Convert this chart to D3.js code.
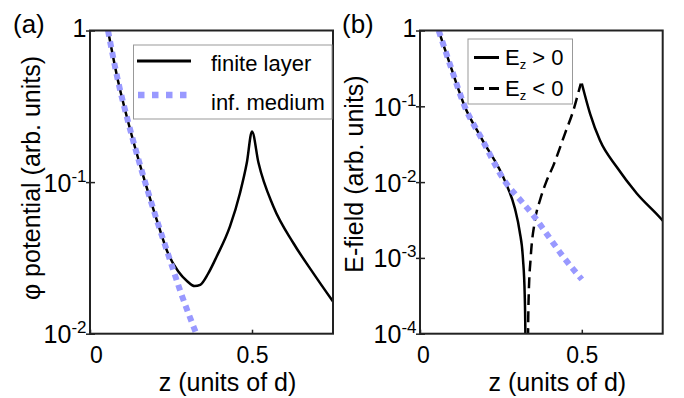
<!DOCTYPE html>
<html>
<head>
<meta charset="utf-8">
<script src="https://cdn.jsdelivr.net/npm/d3@7"></script>
<style>
  body { margin: 0; background: #fff; }
  text { font-family: "Liberation Sans", Arial, sans-serif; fill: #000; }
</style>
</head>
<body>
<svg id="chart" width="684" height="398"></svg>
<script>
// ---- data ----
const zTicks = [0, 0.5];
const zTickLabels = ["0", "0.5"];
const potTicks = [1, 0.1, 0.01];
const potTickLabels = [["1", ""], ["10", "-1"], ["10", "-2"]];
const fieldTicks = [1, 1e-1, 1e-2, 1e-3, 1e-4];
const fieldTickLabels = [["1", ""], ["10", "-1"], ["10", "-2"], ["10", "-3"], ["10", "-4"]];

// (a) potential, finite layer
const finiteZ = [0.0556, 0.0864, 0.117, 0.170, 0.206, 0.2417, 0.272, 0.300, 0.323, 0.340, 0.365, 0.391, 0.432, 0.463, 0.484, 0.500, 0.520, 0.566, 0.628, 0.689, 0.750];
const finitePhi = [1.0, 0.466, 0.253, 0.100, 0.0564, 0.0335, 0.0258, 0.0222, 0.0206, 0.0210, 0.0250, 0.0323, 0.051, 0.0848, 0.134, 0.216, 0.134, 0.069, 0.0395, 0.0251, 0.0163];
// (a) potential, infinite medium
const infZ = [0.0556, 0.0864, 0.117, 0.170, 0.206, 0.2417, 0.283, 0.328];
const infPhi = [1.0, 0.466, 0.253, 0.100, 0.0564, 0.0331, 0.018, 0.010];

// (b) field, infinite medium
const infFieldZ = [0.0577, 0.0968, 0.138, 0.190, 0.264, 0.313, 0.349, 0.390, 0.443, 0.500];
const infField = [1.0, 0.316, 0.1, 0.0378, 0.010, 0.0056, 0.0037, 0.00212, 0.00103, 0.00052];
// (b) Ez > 0, before and after the sign change
const posZ1 = [0.0577, 0.0968, 0.138, 0.190, 0.264, 0.293, 0.308, 0.318, 0.3236, 0.3256, 0.3265];
const posE1 = [1.0, 0.316, 0.1, 0.0378, 0.010, 0.00453, 0.00223, 0.001, 0.000326, 0.0001, 0.00003];
const posZ2 = [0.500, 0.5255, 0.556, 0.608, 0.670, 0.747, 0.750];
const posE2 = [0.200, 0.0802, 0.0356, 0.0158, 0.00708, 0.00321, 0.0031];
// (b) Ez < 0
const negZ = [0.3335, 0.334, 0.336, 0.342, 0.3545, 0.371, 0.391, 0.412, 0.448, 0.474, 0.4927, 0.497];
const negE = [0.00003, 0.0001, 0.000327, 0.001, 0.003, 0.0058, 0.0103, 0.0165, 0.0437, 0.0885, 0.171, 0.199];

const blue = "#9999ff";
const svg = d3.select("#chart");

function panel(cfg) {
  const x = d3.scaleLinear().domain([0, 0.75]).range([cfg.left, cfg.right]);
  const y = d3.scaleLog().domain(cfg.yDomain).range([cfg.bottom, cfg.top]);
  const g = svg.append("g");

  g.append("clipPath").attr("id", cfg.id)
    .append("rect")
    .attr("x", cfg.left).attr("y", cfg.top)
    .attr("width", cfg.right - cfg.left).attr("height", cfg.bottom - cfg.top);

  const line = d3.line()
    .x(d => x(d[0]))
    .y(d => y(d[1]))
    .curve(d3.curveMonotoneX);

  const plot = g.append("g").attr("clip-path", `url(#${cfg.id})`);
  cfg.series.forEach(s => {
    plot.append("path")
      .attr("d", line(d3.zip(s.z, s.v)))
      .attr("fill", "none")
      .attr("stroke", s.color)
      .attr("stroke-width", s.width)
      .attr("stroke-dasharray", s.dash || null);
  });

  // x axis, ticks pointing inwards
  const xAxis = d3.axisBottom(x)
    .tickValues(zTicks)
    .tickSizeInner(-4)
    .tickSizeOuter(0)
    .tickFormat((d, i) => zTickLabels[i]);
  const gx = g.append("g")
    .attr("transform", `translate(0,${cfg.bottom})`)
    .call(xAxis);
  gx.select(".domain").remove();
  gx.selectAll(".tick line").attr("stroke", "#222").attr("stroke-width", 1.5);
  gx.selectAll(".tick text")
    .attr("y", 29).attr("dy", 0)
    .attr("font-size", 23)
    .attr("dx", d => d === 0 ? cfg.zeroShift : 0);

  // y axis, ticks crossing the frame
  const yAxis = d3.axisLeft(y)
    .tickValues(cfg.yTicks)
    .tickSizeInner(4)
    .tickSizeOuter(0)
    .tickFormat(() => "");
  const gy = g.append("g")
    .attr("transform", `translate(${cfg.left},0)`)
    .call(yAxis);
  gy.select(".domain").remove();
  gy.selectAll(".tick line").attr("x1", 5).attr("stroke", "#222").attr("stroke-width", 1.5);
  gy.selectAll(".tick text").each(function (d, i) {
    const t = d3.select(this)
      .attr("x", -3.5)
      .attr("dy", 0)
      .attr("y", i === 0 ? 5.5 : 9)
      .attr("font-size", 25)
      .attr("text-anchor", "end");
    const lab = cfg.yLabels[i];
    t.append("tspan").text(lab[0]);
    if (lab[1]) t.append("tspan").attr("font-size", 17).attr("dy", -10).text(lab[1]);
  });

  // frame
  g.append("rect")
    .attr("x", cfg.left).attr("y", cfg.top)
    .attr("width", cfg.right - cfg.left).attr("height", cfg.bottom - cfg.top)
    .attr("fill", "none").attr("stroke", "#222").attr("stroke-width", 2);

  // labels
  g.append("text")
    .attr("x", (cfg.left + cfg.right) / 2 + 16).attr("y", 391)
    .attr("text-anchor", "middle").attr("font-size", 25)
    .text("z (units of d)");
  g.append("text")
    .attr("transform", `translate(${cfg.yLabelX},${cfg.yLabelY}) rotate(-90)`)
    .attr("text-anchor", "middle").attr("font-size", 25)
    .text(cfg.yTitle);
  g.append("text")
    .attr("x", cfg.tagX).attr("y", 33)
    .attr("font-size", 26)
    .text(cfg.tag);

  return g;
}

const ga = panel({
  id: "clipA", left: 90, right: 333, top: 30.5, bottom: 333.7,
  yDomain: [0.01, 1], yTicks: potTicks, yLabels: potTickLabels,
  zeroShift: 6, yTitle: "\u03c6 potential (arb. units)", yLabelX: 40, yLabelY: 178,
  tag: "(a)", tagX: 13,
  series: [
    { z: finiteZ, v: finitePhi, color: "#000", width: 2.5 },
    { z: infZ, v: infPhi, color: blue, width: 6, dash: "6 5" }
  ]
});

const gb = panel({
  id: "clipB", left: 420, right: 662.7, top: 30.5, bottom: 333.7,
  yDomain: [1e-4, 1], yTicks: fieldTicks, yLabels: fieldTickLabels,
  zeroShift: 3, yTitle: "E-field (arb. units)", yLabelX: 363, yLabelY: 174,
  tag: "(b)", tagX: 342,
  series: [
    { z: posZ1, v: posE1, color: "#000", width: 2.5 },
    { z: posZ2, v: posE2, color: "#000", width: 2.5 },
    { z: negZ, v: negE, color: "#000", width: 2.5, dash: "11 6" },
    { z: infFieldZ, v: infField, color: blue, width: 6, dash: "6 5" }
  ]
});

// legend (a)
const la = ga.append("g");
la.append("rect").attr("x", 133.5).attr("y", 45).attr("width", 198.5).attr("height", 74)
  .attr("fill", "#fff").attr("stroke", "#999").attr("stroke-width", 1);
la.append("line").attr("x1", 137).attr("x2", 191).attr("y1", 61).attr("y2", 61)
  .attr("stroke", "#000").attr("stroke-width", 3);
la.append("line").attr("x1", 138).attr("x2", 188).attr("y1", 95).attr("y2", 95)
  .attr("stroke", blue).attr("stroke-width", 6.5).attr("stroke-dasharray", "6.5 7.5");
la.append("text").attr("x", 211).attr("y", 71).attr("font-size", 22).text("finite layer");
la.append("text").attr("x", 211).attr("y", 110).attr("font-size", 22).text("inf. medium");

// legend (b)
const lb = gb.append("g");
lb.append("rect").attr("x", 468).attr("y", 39).attr("width", 104.5).attr("height", 65)
  .attr("fill", "#fff").attr("stroke", "#999").attr("stroke-width", 1);
lb.append("line").attr("x1", 474).attr("x2", 499).attr("y1", 57.5).attr("y2", 57.5)
  .attr("stroke", "#000").attr("stroke-width", 3);
lb.append("line").attr("x1", 474).attr("x2", 499).attr("y1", 88.5).attr("y2", 88.5)
  .attr("stroke", "#000").attr("stroke-width", 3).attr("stroke-dasharray", "10 5");
[["> 0", 64.5], ["< 0", 96]].forEach(([rest, yy]) => {
  const t = lb.append("text").attr("x", 505).attr("y", yy).attr("font-size", 22);
  t.append("tspan").text("E");
  t.append("tspan").attr("font-size", 13).attr("dy", 4).text("z");
  t.append("tspan").attr("dy", -4).text(" " + rest);
});
</script>
</body>
</html>
